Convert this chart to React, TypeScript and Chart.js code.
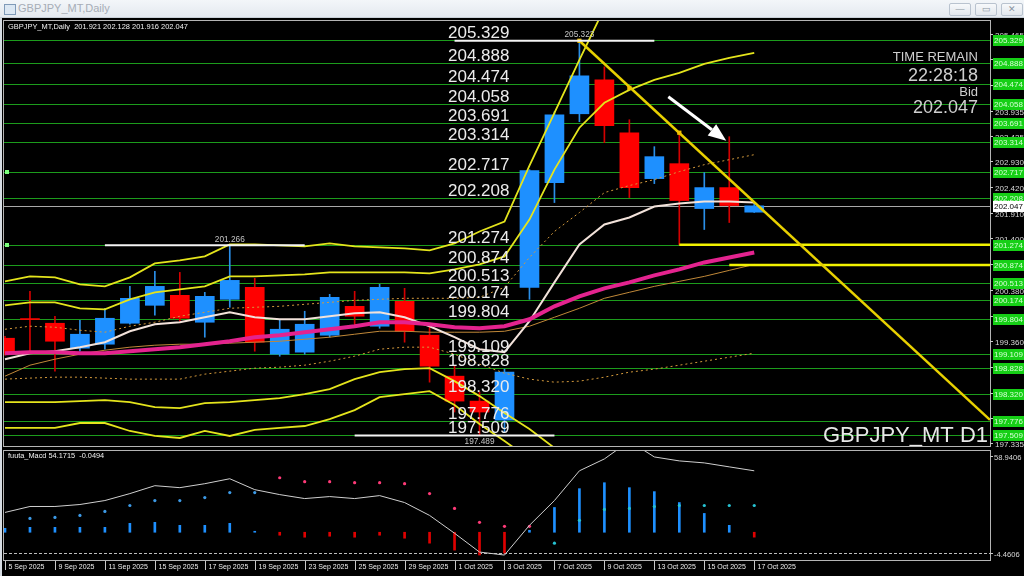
import React, { useEffect, useRef } from "react";
import { Chart, registerables } from "chart.js";

Chart.register(...registerables);

// ---------------- data ----------------
const dates = [
  "5 Sep 2025", "8 Sep 2025", "9 Sep 2025", "10 Sep 2025", "11 Sep 2025", "12 Sep 2025",
  "15 Sep 2025", "16 Sep 2025", "17 Sep 2025", "18 Sep 2025", "19 Sep 2025", "22 Sep 2025",
  "23 Sep 2025", "24 Sep 2025", "25 Sep 2025", "26 Sep 2025", "29 Sep 2025", "30 Sep 2025",
  "1 Oct 2025", "2 Oct 2025", "3 Oct 2025", "6 Oct 2025", "7 Oct 2025", "8 Oct 2025",
  "9 Oct 2025", "10 Oct 2025", "13 Oct 2025", "14 Oct 2025", "15 Oct 2025", "16 Oct 2025",
  "17 Oct 2025",
];
const opens = [199.420, 199.800, 199.717, 199.222, 199.301, 199.717, 200.073, 200.271, 199.737, 200.192, 200.430, 199.103, 199.143, 199.479, 200.053, 199.658, 200.152, 199.479, 198.667, 198.172, 197.796, 200.430, 202.508, 203.874, 204.547, 203.498, 202.587, 202.884, 201.993, 202.409, 201.921];
const highs = [199.459, 200.350, 199.856, 199.776, 200.014, 200.449, 200.746, 200.726, 200.330, 201.266, 200.608, 199.796, 199.955, 200.291, 200.350, 200.489, 200.410, 199.697, 198.865, 198.351, 198.806, 202.765, 203.914, 205.323, 204.805, 203.755, 203.221, 203.518, 202.706, 203.419, 202.128];
const lows = [199.083, 199.143, 198.766, 199.162, 199.202, 199.697, 199.875, 199.757, 199.440, 200.034, 199.162, 199.063, 199.103, 199.440, 199.658, 199.618, 199.341, 198.548, 197.955, 197.489, 197.559, 200.192, 202.112, 203.716, 203.300, 202.211, 202.488, 201.274, 201.577, 201.716, 201.916];
const closes = [199.123, 199.790, 199.360, 199.499, 199.816, 200.212, 200.449, 199.816, 200.251, 200.568, 199.341, 199.598, 199.697, 200.231, 199.856, 200.430, 199.558, 198.865, 198.172, 197.955, 198.746, 202.745, 203.854, 204.627, 203.636, 202.409, 203.023, 202.152, 202.409, 202.053, 202.047];

const bandUpperOuter = [200.548, 200.647, 200.627, 200.489, 200.449, 200.627, 200.904, 200.964, 201.043, 201.281, 201.281, 201.261, 201.241, 201.300, 201.241, 201.221, 201.202, 201.162, 201.300, 201.538, 201.736, 202.845, 203.894, 204.943, 205.973, null, null, null, null, null, null];
const bandUpperInner = [200.073, 200.132, 200.132, 200.014, 199.994, 200.192, 200.331, 200.390, 200.449, 200.647, 200.647, 200.667, 200.687, 200.726, 200.726, 200.726, 200.726, 200.706, 200.786, 200.885, 201.043, 201.775, 202.765, 203.597, 204.092, 204.349, 204.547, 204.686, 204.864, 204.983, 205.082];
const bandUpperDash = [199.598, 199.658, 199.638, 199.578, 199.539, 199.658, 199.737, 199.856, 199.935, 200.014, 200.034, 200.053, 200.093, 200.132, 200.172, 200.192, 200.212, 200.212, 200.212, 200.231, 200.430, 201.023, 201.538, 201.914, 202.310, 202.449, 202.567, 202.726, 202.864, 202.963, 203.062];
const middleLine = [199.004, 199.123, 199.162, 199.242, 199.341, 199.558, 199.697, 199.737, 199.836, 199.935, 199.836, 199.796, 199.796, 199.856, 199.915, 199.935, 199.836, 199.658, 199.440, 199.202, 199.143, 199.757, 200.528, 201.281, 201.677, 201.815, 202.033, 202.092, 202.132, 202.132, 202.112];
const magentaMA = [199.123, 199.143, 199.143, 199.123, 199.123, 199.162, 199.202, 199.242, 199.301, 199.360, 199.440, 199.479, 199.539, 199.598, 199.658, 199.737, 199.737, 199.697, 199.638, 199.618, 199.658, 199.796, 200.053, 200.251, 200.410, 200.528, 200.667, 200.786, 200.924, 201.023, 201.122];
const tanMA = [198.667, 198.885, 199.004, 199.103, 199.182, 199.242, 199.281, 199.301, 199.301, 199.321, 199.341, 199.360, 199.400, 199.440, 199.499, 199.558, 199.558, 199.539, 199.539, 199.539, 199.558, 199.658, 199.836, 200.014, 200.212, 200.331, 200.449, 200.548, 200.647, 200.766, 200.885];
const bandLowerDash = [198.608, 198.628, 198.647, 198.647, 198.628, 198.608, 198.608, 198.608, 198.707, 198.766, 198.826, 198.845, 198.885, 198.964, 199.063, 199.202, 199.242, 199.242, 199.103, 198.905, 198.727, 198.608, 198.548, 198.568, 198.647, 198.746, 198.806, 198.885, 198.964, 199.043, 199.123];
const bandLowerInner = [198.152, 198.152, 198.152, 198.172, 198.192, 198.152, 198.053, 198.033, 198.132, 198.152, 198.192, 198.231, 198.311, 198.410, 198.608, 198.746, 198.806, 198.826, 198.568, 198.271, 197.935, 197.619, 197.242, null, null, null, null, null, null, null, null];
const bandLowerOuter = [197.639, 197.639, 197.639, 197.737, 197.737, 197.579, 197.480, 197.440, 197.579, 197.480, 197.599, 197.639, 197.678, 197.816, 197.994, 198.251, 198.311, 198.370, 198.093, 197.718, 197.381, 197.024, null, null, null, null, null, null, null, null, null];

const priceLevels = [205.329, 204.888, 204.474, 204.058, 203.691, 203.314, 202.717, 202.208, 201.274, 200.874, 200.513, 200.174, 199.804, 199.109, 198.828, 198.320, 197.776, 197.509];
const axisPriceTicks = [205.465, 204.955, 204.445, 203.935, 203.425, 202.930, 202.420, 201.910, 201.400, 200.890, 200.380, 199.870, 199.360, 198.850, 198.340, 197.830, 197.335];
const bidPrice = 202.047;
const extremeBars = [23, 9, 19];
const extremeValues = [205.323, 201.266, 197.489];
const supportStartBars = [27, 29];
const supportValues = [201.274, 200.874];
const trendBars = [23, 39.44];
const trendValues = [205.323, 197.8];
const trendMarkBars = [23, 25, 27];
const trendMarkValues = [205.323, 204.389, 203.498];
const arrowBars = [26.56, 28.88];
const arrowValues = [204.211, 203.34];

const macdLine = [22.07, 25.95, 25.95, 27.24, 29.83, 34.36, 39.53, 38.24, 40.83, 44.06, 36.94, 33.71, 31.12, 32.42, 31.12, 33.06, 28.53, 20.12, 8.48, -3.81, -5.76, 13.65, 29.83, 49.24, 57.0, 68.65, 58.29, 55.71, 54.41, 51.82, 49.24];
const macdHist = [0.04, 0.05, 0.05, 0.05, 0.05, 0.09, 0.1, 0.07, 0.07, 0.09, 0.01, -0.03, -0.05, -0.04, -0.05, -0.03, -0.06, -0.11, -0.18, -0.23, -0.21, 0.02, 0.25, 0.44, 0.5, 0.45, 0.41, 0.3, 0.19, 0.07, -0.0494];
const macdDots = [null, 0.14, 0.15, 0.17, 0.21, 0.27, 0.32, 0.32, 0.35, 0.4, 0.4, 0.55, 0.51, 0.51, 0.5, 0.5, 0.49, 0.39, 0.24, 0.1, 0.06, 0.06, -0.11, 0.12, 0.23, 0.24, 0.26, 0.27, 0.27, 0.27, 0.27];
const macdAxisTicks = [58.9406, -4.4606];
const macdTitle = "fuuta_Macd 54.1715  -0.0494";
const headerText = "GBPJPY_MT,Daily  201.921 202.128 201.916 202.047";

// ---------------- layout / style ----------------
const X_MIN = -0.04;
const X_MAX = 39.44;
const PRICE_MIN = 197.281;
const PRICE_MAX = 205.715;
const MACD_MIN = -8.989;
const MACD_MAX = 62.175;
const HIST_MIN = -0.28;
const HIST_MAX = 0.82;

const FONT = "'Liberation Sans', Arial, Helvetica, sans-serif";
const BLUE = "#1e90ff";
const RED = "#ff0000";
const YEL = "#e4e41c";

const idx = dates.map((_, i) => i);
const pts = (arr: any[]) => arr.map((v, i) => ({ x: i, y: v }));

function txt(ctx: any, s: string, x: number, y: number, font: string, color: string, align = "left", baseline = "middle", squeeze = 1) {
  ctx.font = font;
  ctx.fillStyle = color;
  ctx.textAlign = align;
  ctx.textBaseline = baseline;
  if (squeeze !== 1) {
    const w = ctx.measureText(s).width;
    ctx.fillText(s, x, y, w * squeeze);
  } else {
    ctx.fillText(s, x, y);
  }
}

function hline(ctx: any, x1: number, x2: number, y: number) {
  ctx.beginPath();
  ctx.moveTo(x1, y);
  ctx.lineTo(x2, y);
  ctx.stroke();
}

const lineDs = (label: string, arr: any[], color: string, width: number, order: number, extra: any = {}) => ({
  type: "line",
  label,
  data: pts(arr),
  borderColor: color,
  borderWidth: width,
  pointRadius: 0,
  tension: 0,
  fill: false,
  spanGaps: false,
  order,
  ...extra,
});

const mainDecor = {
  id: "mainDecor",
  beforeDatasetsDraw(chart: any) {
    const { ctx, chartArea: a, scales } = chart;
    const ys = scales.y;
    ctx.save();
    ctx.beginPath();
    ctx.rect(a.left, a.top, a.right - a.left, a.bottom - a.top);
    ctx.clip();
    ctx.strokeStyle = "#1c9c1c";
    ctx.lineWidth = 1;
    for (const v of priceLevels) hline(ctx, a.left, a.right, Math.round(ys.getPixelForValue(v)) + 0.5);
    ctx.strokeStyle = "#a8a8a8";
    hline(ctx, a.left, a.right, Math.round(ys.getPixelForValue(bidPrice)) + 0.5);
    ctx.restore();
  },
  afterDatasetsDraw(chart: any) {
    const { ctx, chartArea: a, scales } = chart;
    const xs = scales.x;
    const ys = scales.y;
    ctx.save();
    ctx.beginPath();
    ctx.rect(a.left, a.top, a.right - a.left, a.bottom - a.top);
    ctx.clip();

    // big level labels
    for (const v of priceLevels) {
      const py = ys.getPixelForValue(v);
      txt(ctx, v.toFixed(3), 448, py - 2, `17px ${FONT}`, "#ececec", "left", "alphabetic");
    }
    // extreme labels
    extremeBars.forEach((b, i) => {
      const px = xs.getPixelForValue(b);
      const py = ys.getPixelForValue(extremeValues[i]);
      const above = i < 2;
      txt(ctx, extremeValues[i].toFixed(3), px, above ? py - 6 : py + 6, `9px ${FONT}`, "#c4c4c4", "center", "middle", 0.92);
    });
    // arrow
    const x1 = xs.getPixelForValue(arrowBars[0]);
    const y1 = ys.getPixelForValue(arrowValues[0]);
    const x2 = xs.getPixelForValue(arrowBars[1]);
    const y2 = ys.getPixelForValue(arrowValues[1]);
    const ang = Math.atan2(y2 - y1, x2 - x1);
    const head = 18;
    const hw = 7;
    const bx = x2 - head * Math.cos(ang);
    const by = y2 - head * Math.sin(ang);
    ctx.strokeStyle = "#ffffff";
    ctx.fillStyle = "#ffffff";
    ctx.lineWidth = 3;
    ctx.beginPath();
    ctx.moveTo(x1, y1);
    ctx.lineTo(bx, by);
    ctx.stroke();
    ctx.beginPath();
    ctx.moveTo(x2, y2);
    ctx.lineTo(bx + hw * Math.sin(ang), by - hw * Math.cos(ang));
    ctx.lineTo(bx - hw * Math.sin(ang), by + hw * Math.cos(ang));
    ctx.closePath();
    ctx.fill();

    // left edge markers
    ctx.fillStyle = "#7dff7d";
    for (const v of [202.717, 201.274]) {
      const py = Math.round(ys.getPixelForValue(v));
      ctx.fillRect(a.left + 1, py - 2, 4, 4);
    }

    // header + info texts
    txt(ctx, headerText, a.left + 4, a.top + 6, `8px ${FONT}`, "#f0f0f0", "left", "middle", 0.93);
    const rx = a.right - 12;
    txt(ctx, "TIME REMAIN", rx, a.top + 36, `13px ${FONT}`, "#cfcfcf", "right");
    txt(ctx, "22:28:18", rx, a.top + 55, `18px ${FONT}`, "#cfcfcf", "right");
    txt(ctx, "Bid", rx, a.top + 71, `13px ${FONT}`, "#cfcfcf", "right");
    txt(ctx, "202.047", rx, a.top + 87, `18px ${FONT}`, "#cfcfcf", "right");
    txt(ctx, "GBPJPY_MT D1", a.right - 2, a.bottom - 10, `22px ${FONT}`, "#e8e8e8", "right");
    ctx.restore();
  },
  afterDraw(chart: any) {
    const { ctx, chartArea: a, scales } = chart;
    const ys = scales.y;
    ctx.save();
    ctx.strokeStyle = "#b4b4b4";
    ctx.lineWidth = 1;
    ctx.strokeRect(a.left - 0.5, a.top - 0.5, a.right - a.left + 1, a.bottom - a.top + 1);
    // axis ticks
    for (const t of axisPriceTicks) {
      const py = Math.round(ys.getPixelForValue(t)) + 0.5;
      ctx.strokeStyle = "#c8c8c8";
      hline(ctx, a.right, a.right + 3, py);
      txt(ctx, t.toFixed(3), a.right + 5, py + 1.5, `8px ${FONT}`, "#d8d8d8", "left", "middle");
    }
    // green labels
    for (const v of priceLevels) {
      const py = Math.round(ys.getPixelForValue(v));
      ctx.fillStyle = "#16cf16";
      ctx.fillRect(a.right + 3, py - 5, 31, 11);
      txt(ctx, v.toFixed(3), a.right + 18.5, py + 0.5, `8px ${FONT}`, "#d6ffd6", "center", "middle");
    }
    const by = Math.round(ys.getPixelForValue(bidPrice));
    ctx.fillStyle = "#ffffff";
    ctx.fillRect(a.right + 3, by - 5, 31, 11);
    txt(ctx, bidPrice.toFixed(3), a.right + 18.5, by + 0.5, `8px ${FONT}`, "#000000", "center", "middle");
    ctx.restore();
  },
};

const macdDecor = {
  id: "macdDecor",
  beforeDatasetsDraw(chart: any) {
    const { ctx, chartArea: a, scales } = chart;
    ctx.save();
    ctx.strokeStyle = "#bdbdbd";
    ctx.lineWidth = 1;
    ctx.setLineDash([3, 2]);
    hline(ctx, a.left, a.right, Math.round(scales.y.getPixelForValue(macdAxisTicks[1])) + 0.5);
    ctx.restore();
  },
  afterDraw(chart: any) {
    const { ctx, chartArea: a, scales } = chart;
    const xs = scales.x;
    ctx.save();
    ctx.strokeStyle = "#b4b4b4";
    ctx.lineWidth = 1;
    ctx.strokeRect(a.left - 0.5, a.top - 0.5, a.right - a.left + 1, a.bottom - a.top + 1);
    txt(ctx, macdTitle, a.left + 4, a.top + 5, `8px ${FONT}`, "#f0f0f0", "left", "middle", 0.92);
    for (const t of macdAxisTicks) {
      const py = Math.round(scales.y.getPixelForValue(t)) + 0.5;
      ctx.strokeStyle = "#c8c8c8";
      hline(ctx, a.right, a.right + 3, py);
      txt(ctx, t.toFixed(4), a.right + 4, py + 1, `8px ${FONT}`, "#d8d8d8", "left", "middle", 0.95);
    }
    // x labels
    for (let i = 0; i < dates.length; i += 2) {
      const px = Math.round(xs.getPixelForValue(i)) + 0.5;
      ctx.strokeStyle = "#c8c8c8";
      ctx.beginPath();
      ctx.moveTo(px, a.bottom + 1);
      ctx.lineTo(px, a.bottom + 10);
      ctx.stroke();
      txt(ctx, dates[i], px + 3, a.bottom + 7, `8px ${FONT}`, "#eeeeee", "left", "middle", 0.88);
    }
    ctx.restore();
  },
};

function mainConfig(): any {
  const up = (i: number) => closes[i] >= opens[i];
  const datasets: any[] = [
    {
      type: "bar",
      label: "wicks",
      data: idx.map((i) => ({ x: i, y: [lows[i], highs[i]] })),
      backgroundColor: idx.map((i) => (up(i) ? "#2a8fe8" : "#d40000")),
      borderWidth: 0,
      barThickness: 1,
      grouped: false,
      order: 20,
    },
    {
      type: "bar",
      label: "bodies",
      data: idx.map((i) => ({ x: i, y: [opens[i], closes[i]] })),
      backgroundColor: idx.map((i) => (up(i) ? BLUE : RED)),
      borderWidth: 0,
      barThickness: 19,
      minBarLength: 1,
      grouped: false,
      order: 19,
    },
    lineDs("upper dash", bandUpperDash, "#d49a3c", 1, 15, { borderDash: [2, 3] }),
    lineDs("lower dash", bandLowerDash, "#d49a3c", 1, 15, { borderDash: [2, 3] }),
    lineDs("upper outer", bandUpperOuter, YEL, 1.8, 14),
    lineDs("upper inner", bandUpperInner, YEL, 1.8, 14),
    lineDs("lower inner", bandLowerInner, YEL, 1.8, 14),
    lineDs("lower outer", bandLowerOuter, YEL, 1.8, 14),
    lineDs("tan ma", tanMA, "#c08838", 1, 13),
    lineDs("middle", middleLine, "#f2e2da", 2, 12),
    lineDs("magenta ma", magentaMA, "#e4238f", 4, 11),
  ];
  supportStartBars.forEach((b, i) => {
    datasets.push({
      type: "line",
      label: "support" + i,
      data: [{ x: b, y: supportValues[i] }, { x: X_MAX, y: supportValues[i] }],
      borderColor: "#f2f200",
      borderWidth: 2.5,
      pointRadius: 0,
      order: 5,
    });
  });
  datasets.push({
    type: "line",
    label: "trend",
    data: trendBars.map((b, i) => ({ x: b, y: trendValues[i] })),
    borderColor: "#e8d000",
    borderWidth: 2.5,
    pointRadius: 0,
    order: 4,
  });
  datasets.push({
    type: "line",
    label: "trend marks",
    data: trendMarkBars.map((b, i) => ({ x: b, y: trendMarkValues[i] })),
    showLine: false,
    pointStyle: "rect",
    pointRadius: 3,
    pointBackgroundColor: "#f4c000",
    pointBorderWidth: 0,
    order: 3,
  });
  extremeBars.forEach((b, i) => {
    datasets.push({
      type: "line",
      label: "extreme" + i,
      data: [{ x: b - 5, y: extremeValues[i] }, { x: b + 3, y: extremeValues[i] }],
      borderColor: "#f4f4f4",
      borderWidth: 2,
      pointRadius: 0,
      order: 2,
    });
  });
  return {
    type: "bar",
    data: { datasets },
    options: {
      responsive: false,
      animation: false,
      events: [],
      layout: { padding: { left: 3, right: 34, top: 4, bottom: 3 } },
      plugins: { legend: { display: false }, tooltip: { enabled: false } },
      scales: {
        x: { type: "linear", min: X_MIN, max: X_MAX, offset: false, display: false, bounds: "data" },
        y: { type: "linear", min: PRICE_MIN, max: PRICE_MAX, display: false, beginAtZero: false, bounds: "data" },
      },
    },
    plugins: [mainDecor],
  };
}

function macdConfig(): any {
  const dotColor = (i: number) => (i <= 10 ? "#3d9ae6" : i <= 21 ? "#ff3a78" : "#26c2d2");
  return {
    type: "bar",
    data: {
      datasets: [
        {
          type: "line",
          label: "macd",
          yAxisID: "y",
          data: pts(macdLine),
          borderColor: "#cfcfcf",
          borderWidth: 1,
          pointRadius: 0,
          tension: 0,
          order: 1,
        },
        {
          type: "line",
          label: "dots",
          yAxisID: "y2",
          data: pts(macdDots),
          showLine: false,
          pointRadius: 1.6,
          pointBorderWidth: 0,
          pointBackgroundColor: idx.map(dotColor),
          order: 2,
        },
        {
          type: "bar",
          label: "hist",
          yAxisID: "y2",
          data: pts(macdHist),
          backgroundColor: macdHist.map((v) => (v >= 0 ? BLUE : "#e00000")),
          barThickness: 2,
          borderWidth: 0,
          grouped: false,
          order: 3,
        },
      ],
    },
    options: {
      responsive: false,
      animation: false,
      events: [],
      layout: { padding: { left: 3, right: 34, top: 3, bottom: 16 } },
      plugins: { legend: { display: false }, tooltip: { enabled: false } },
      scales: {
        x: { type: "linear", min: X_MIN, max: X_MAX, offset: false, display: false, bounds: "data" },
        y: { type: "linear", min: MACD_MIN, max: MACD_MAX, display: false, beginAtZero: false, bounds: "data" },
        y2: { type: "linear", min: HIST_MIN, max: HIST_MAX, display: false, beginAtZero: false, bounds: "data" },
      },
    },
    plugins: [macdDecor],
  };
}

function WinButton({ left, glyph }: any) {
  return (
    <div
      style={{
        position: "absolute",
        left,
        top: 3,
        width: 20,
        height: 11,
        border: "1px solid #b9c3cf",
        borderRadius: 2,
        background: "linear-gradient(#f7f9fb,#e2e7ed)",
        color: "#8a94a0",
        fontSize: 9,
        lineHeight: "11px",
        textAlign: "center",
        fontFamily: FONT,
      }}
    >
      {glyph}
    </div>
  );
}

export default function App() {
  const mainRef = useRef<HTMLCanvasElement>(null);
  const macdRef = useRef<HTMLCanvasElement>(null);
  useEffect(() => {
    const main = new Chart(mainRef.current as any, mainConfig());
    const macd = new Chart(macdRef.current as any, macdConfig());
    return () => {
      main.destroy();
      macd.destroy();
    };
  }, []);
  return (
    <div style={{ position: "fixed", left: 0, top: 0, width: 1024, height: 576, background: "#000", overflow: "hidden" }}>
      <div
        style={{
          position: "absolute",
          left: 0,
          top: 0,
          width: 1024,
          height: 17,
          background: "linear-gradient(#f3f6f9,#e4e9ef)",
          borderBottom: "1px solid #c9d0d8",
        }}
      >
        <div style={{ position: "absolute", left: 4, top: 4, width: 10, height: 9, border: "1px solid #7f9ab8", background: "#dbe7f3" }} />
        <div style={{ position: "absolute", left: 18, top: 2, fontFamily: FONT, fontSize: 11, color: "#a6adb6" }}>GBPJPY_MT,Daily</div>
        <WinButton left={949} glyph="—" />
        <WinButton left={975} glyph="▭" />
        <WinButton left={1001} glyph="✕" />
      </div>
      <div style={{ position: "absolute", left: 0, top: 18, width: 2, height: 558, background: "#d6dce3" }} />
      <canvas ref={mainRef} width={1024} height={433} style={{ position: "absolute", left: 0, top: 17 }} />
      <canvas ref={macdRef} width={1024} height={129} style={{ position: "absolute", left: 0, top: 447 }} />
    </div>
  );
}
